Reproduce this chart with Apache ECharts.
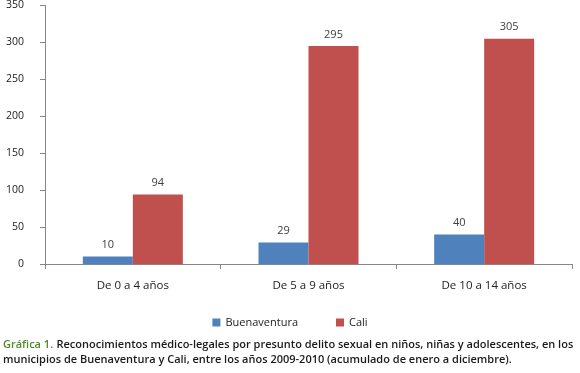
<!DOCTYPE html>
<html>
<head>
<meta charset="utf-8">
<title>Gráfica 1</title>
<script src="https://cdn.jsdelivr.net/npm/echarts@6/dist/echarts.min.js"></script>
<style>
  html, body { margin: 0; padding: 0; background: #fff; }
  #main { width: 580px; height: 373px; }
</style>
</head>
<body>
<div id="main"></div>
<script type="text/javascript">
// data
var categories = ['De 0 a 4 años', 'De 5 a 9 años', 'De 10 a 14 años'];
var seriesNames = ['Buenaventura', 'Cali'];
var buenaventura = [10, 29, 40];
var cali = [94, 295, 305];
var captionLines = [
  'Reconocimientos médico-legales por presunto delito sexual en niños, niñas y adolescentes, en los',
  'municipios de Buenaventura y Cali, entre los años 2009-2010 (acumulado de enero a diciembre).'
];

var font = 'Open Sans';
var myChart = echarts.init(document.getElementById('main'));

var labelStyle = {
  show: true,
  position: 'top',
  distance: 6,
  color: '#404040',
  fontFamily: font,
  fontSize: 11
};

var option = {
  animation: false,
  backgroundColor: '#fff',
  color: ['#4F81BD', '#C0504D'],
  grid: { left: 45, right: 8, top: 5, bottom: 109 },
  legend: {
    data: seriesNames,
    top: 312,
    left: 'center',
    itemWidth: 8,
    itemHeight: 8,
    itemGap: 38,
    icon: 'rect',
    textStyle: { fontFamily: font, fontSize: 11, color: '#222' }
  },
  xAxis: {
    type: 'category',
    data: categories,
    axisLine: { lineStyle: { color: '#868686' } },
    axisTick: { show: true, length: 5, lineStyle: { color: '#868686' } },
    axisLabel: { margin: 16, fontFamily: font, fontSize: 11.5, color: '#222' }
  },
  yAxis: {
    type: 'value',
    min: 0,
    max: 350,
    interval: 50,
    splitLine: { show: false },
    axisLine: { show: true, lineStyle: { color: '#868686' } },
    axisTick: { show: true, length: 5, lineStyle: { color: '#868686' } },
    axisLabel: { margin: 21, fontFamily: font, fontSize: 10.5, color: '#222' }
  },
  series: [
    {
      name: seriesNames[0],
      type: 'bar',
      data: buenaventura,
      barWidth: 50,
      barGap: '0%',
      label: labelStyle
    },
    {
      name: seriesNames[1],
      type: 'bar',
      data: cali,
      barWidth: 50,
      label: labelStyle
    }
  ],
  graphic: [
    {
      type: 'text',
      left: 3,
      top: 337,
      style: {
        rich: {
          g: { fill: '#4E8A2C', fontFamily: font, fontWeight: 600, fontSize: 11, lineHeight: 15 },
          t: { fill: '#1a1a1a', fontFamily: font, fontWeight: 600, fontSize: 11, lineHeight: 15 }
        },
        text: '{g|Gráfica 1.} {t|' + captionLines[0] + '}\n{t|' + captionLines[1] + '}',
        lineHeight: 15
      }
    }
  ]
};

myChart.setOption(option);
</script>
</body>
</html>
